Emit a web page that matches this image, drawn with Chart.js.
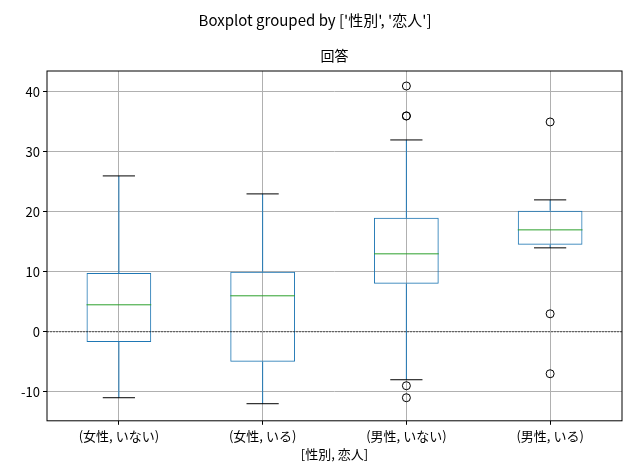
<!DOCTYPE html>
<html lang="ja">
<head>
<meta charset="UTF-8">
<title>Boxplot</title>
<script src="https://cdn.jsdelivr.net/npm/chart.js"></script>
<style>
  body { margin: 0; background: #fff; }
  #wrap { width: 630px; height: 475px; }
</style>
</head>
<body>
<div id="wrap"><canvas id="chart"></canvas></div>
<script>
// groups and box statistics
const groups = ['(女性, いない)', '(女性, いる)', '(男性, いない)', '(男性, いる)'];
const q1 = [-1.7, -5, 8, 14.5];
const medians = [4.5, 6, 13, 17];
const q3 = [9.8, 10, 19, 20.2];
const whiskLow = [-11, -12, -8, 14];
const whiskHigh = [26, 23, 32, 22];
const outliers = [[], [], [41, 36, 36, -9, -11], [35, 3, -7]];
const yTicks = [-10, 0, 10, 20, 30, 40];

const FONT = '"Noto Sans CJK JP", "DejaVu Sans", sans-serif';
const BLUE = '#1f77b4';

const outlierPoints = [];
outliers.forEach((list, i) => list.forEach(v => outlierPoints.push({ x: groups[i], y: v })));

// whiskers, caps, medians, zero line, frame and titles
const boxExtras = {
  id: 'boxExtras',
  afterDatasetsDraw(chart) {
    const { ctx, chartArea: a, scales: { x, y } } = chart;
    const step = x.getPixelForValue(1) - x.getPixelForValue(0);
    const boxHalf = step * 0.225;
    const capHalf = step * 0.112;
    ctx.save();
    groups.forEach((g, i) => {
      const cx = x.getPixelForValue(i);
      ctx.strokeStyle = BLUE; ctx.lineWidth = 1;
      ctx.beginPath();
      ctx.moveTo(cx, y.getPixelForValue(q3[i])); ctx.lineTo(cx, y.getPixelForValue(whiskHigh[i]));
      ctx.moveTo(cx, y.getPixelForValue(q1[i])); ctx.lineTo(cx, y.getPixelForValue(whiskLow[i]));
      ctx.stroke();
      ctx.strokeStyle = '#000';
      ctx.beginPath();
      [whiskHigh[i], whiskLow[i]].forEach(v => {
        const py = y.getPixelForValue(v);
        ctx.moveTo(cx - capHalf, py); ctx.lineTo(cx + capHalf, py);
      });
      ctx.stroke();
      ctx.strokeStyle = '#2ca02c';
      ctx.beginPath();
      const pm = y.getPixelForValue(medians[i]);
      ctx.moveTo(cx - boxHalf, pm); ctx.lineTo(cx + boxHalf, pm);
      ctx.stroke();
    });
    // zero line
    ctx.strokeStyle = '#000'; ctx.lineWidth = 0.6; ctx.setLineDash([2, 1]);
    const p0 = y.getPixelForValue(0);
    ctx.beginPath(); ctx.moveTo(a.left, p0); ctx.lineTo(a.right, p0); ctx.stroke();
    ctx.setLineDash([]);
    // frame
    ctx.lineWidth = 1;
    ctx.strokeRect(a.left, a.top, a.right - a.left, a.bottom - a.top);
    // titles
    ctx.fillStyle = '#000'; ctx.textAlign = 'center'; ctx.textBaseline = 'middle';
    ctx.font = '15px ' + FONT;
    ctx.fillText("Boxplot grouped by ['性別', '恋人']", 315, 20);
    ctx.font = '14px ' + FONT;
    ctx.fillText('回答', (a.left + a.right) / 2, 56);
    ctx.restore();
  }
};

new Chart(document.getElementById('chart'), {
  data: {
    labels: groups,
    datasets: [
      {
        type: 'bar',
        data: groups.map((g, i) => [q1[i], q3[i]]),
        backgroundColor: 'rgba(0,0,0,0)',
        borderColor: BLUE,
        borderWidth: 1,
        borderSkipped: false,
        barPercentage: 0.45,
        categoryPercentage: 1
      },
      {
        type: 'line',
        data: outlierPoints,
        showLine: false,
        pointRadius: 4,
        pointBorderColor: '#000',
        pointBackgroundColor: 'rgba(0,0,0,0)',
        pointBorderWidth: 1
      }
    ]
  },
  options: {
    responsive: true,
    maintainAspectRatio: false,
    animation: false,
    layout: { padding: { top: 71, right: 8, left: 0, bottom: 9 } },
    plugins: { legend: { display: false }, tooltip: { enabled: false } },
    scales: {
      x: {
        type: 'category',
        offset: true,
        grid: { offset: false, color: '#b0b0b0', tickColor: '#000', tickLength: 4 },
        border: { display: false },
        ticks: { color: '#000', font: { family: FONT, size: 13 }, maxRotation: 0 },
        title: { display: true, text: '[性別, 恋人]', color: '#000', font: { family: FONT, size: 13 }, padding: { top: 0 } }
      },
      y: {
        min: -14.85,
        max: 43.5,
        afterBuildTicks: s => { s.ticks = yTicks.map(v => ({ value: v })); },
        afterFit: s => { s.width = 47; },
        grid: { color: '#b0b0b0', tickColor: '#000', tickLength: 4 },
        border: { display: false },
        ticks: { color: '#000', font: { family: FONT, size: 13 } }
      }
    }
  },
  plugins: [boxExtras]
});
</script>
</body>
</html>
